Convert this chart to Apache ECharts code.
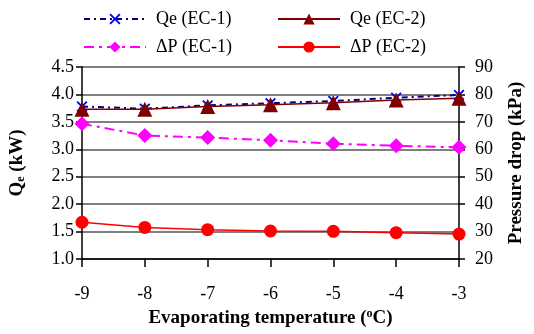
<!DOCTYPE html>
<html><head><meta charset="utf-8">
<script src="https://cdn.jsdelivr.net/npm/echarts@6/dist/echarts.min.js"></script>
<style>html,body{margin:0;padding:0;background:#fff}#c{width:534px;height:334px}</style>
</head><body><div id="c"></div>
<script>
const categories = ['-9','-8','-7','-6','-5','-4','-3'];
const qeEC1 = [3.78, 3.74, 3.80, 3.84, 3.88, 3.94, 3.99];
const qeEC2 = [3.73, 3.73, 3.78, 3.81, 3.85, 3.90, 3.93];
const dpEC1 = [69.3, 65.0, 64.3, 63.3, 62.0, 61.3, 60.7];
const dpEC2 = [33.4, 31.5, 30.7, 30.2, 30.1, 29.6, 29.1];

const F = 'Liberation Serif';
const xSym = 'path://M0,1.2 L1.2,0 L5,3.8 L8.8,0 L10,1.2 L6.2,5 L10,8.8 L8.8,10 L5,6.2 L1.2,10 L0,8.8 L3.8,5 Z';
const dSym = 'path://M5,0 L10,5 L5,10 L0,5 Z';
const chart = echarts.init(document.getElementById('c'));
function lg(name, left, top){
  return {data:[name], left:left, top:top, itemWidth:62, itemHeight:14, itemGap:0,
    textStyle:{fontFamily:F, fontSize:18, color:'#000', padding:[0,0,0,5]}, padding:0};
}
chart.setOption({
  animation:false,
  legend:[lg('Qe (EC-1)',83,10), lg('Qe (EC-2)',277,10), lg('ΔP (EC-1)',83,38), lg('ΔP (EC-2)',277,38)],
  grid:{left:82,right:70,top:67,bottom:75},
  xAxis:{type:'category',data:categories,boundaryGap:false,
    axisLine:{lineStyle:{color:'#000',width:1.5}},
    axisTick:{length:8,lineStyle:{color:'#000',width:1.5}},
    axisLabel:{fontFamily:F,fontSize:18,color:'#000',margin:26},
    name:'Evaporating temperature ({sup|o}C)',nameLocation:'middle',nameGap:49,
    nameTextStyle:{fontFamily:F,fontSize:19,fontWeight:'bold',color:'#000',
      rich:{sup:{fontFamily:F,fontSize:12,fontWeight:'bold',verticalAlign:'top',padding:[0,0,8,0]}}}
  },
  yAxis:[
    {type:'value',min:1,max:4.5,interval:0.5,position:'left',
     axisLine:{show:true,lineStyle:{color:'#000',width:1.5}},
     axisTick:{show:true,length:6,lineStyle:{color:'#000',width:1.5}},
     axisLabel:{fontFamily:F,fontSize:18,color:'#000',margin:8,formatter:v=>v.toFixed(1)},
     splitLine:{show:true,lineStyle:{color:'#555',width:1.5}},
     name:'Q{sub|e} (kW)',nameLocation:'middle',nameGap:55,
     nameTextStyle:{fontFamily:F,fontSize:19,fontWeight:'bold',color:'#000',
       rich:{sub:{fontFamily:F,fontSize:12,fontWeight:'bold',verticalAlign:'bottom',padding:[7,0,0,0]}}}
    },
    {type:'value',min:20,max:90,interval:10,position:'right',
     axisLine:{show:true,lineStyle:{color:'#000',width:1.5}},
     axisTick:{show:true,length:6,lineStyle:{color:'#000',width:1.5}},
     axisLabel:{fontFamily:F,fontSize:18,color:'#000',margin:16},
     splitLine:{show:false},
     name:'Pressure drop (kPa)',nameLocation:'middle',nameGap:48,nameRotate:90,
     nameTextStyle:{fontFamily:F,fontSize:19,fontWeight:'bold',color:'#000'}
    }
  ],
  series:[
    {name:'Qe (EC-1)',type:'line',yAxisIndex:0,data:qeEC1,symbol:xSym,symbolSize:11,
     itemStyle:{color:'#0000ff'},lineStyle:{color:'#000080',width:2,type:[6,4,2,4]}},
    {name:'Qe (EC-2)',type:'line',yAxisIndex:0,data:qeEC2,symbol:'triangle',symbolSize:15,
     itemStyle:{color:'#800000'},lineStyle:{color:'#800000',width:1.5}},
    {name:'ΔP (EC-1)',type:'line',yAxisIndex:1,data:dpEC1,symbol:dSym,symbolSize:15,
     itemStyle:{color:'#ff00ff'},lineStyle:{color:'#ff00ff',width:2,type:[10,5,3,5]}},
    {name:'ΔP (EC-2)',type:'line',yAxisIndex:1,data:dpEC2,symbol:'circle',symbolSize:13,
     itemStyle:{color:'#ff0000'},lineStyle:{color:'#ff0000',width:1.5}}
  ]
});
</script></body></html>
